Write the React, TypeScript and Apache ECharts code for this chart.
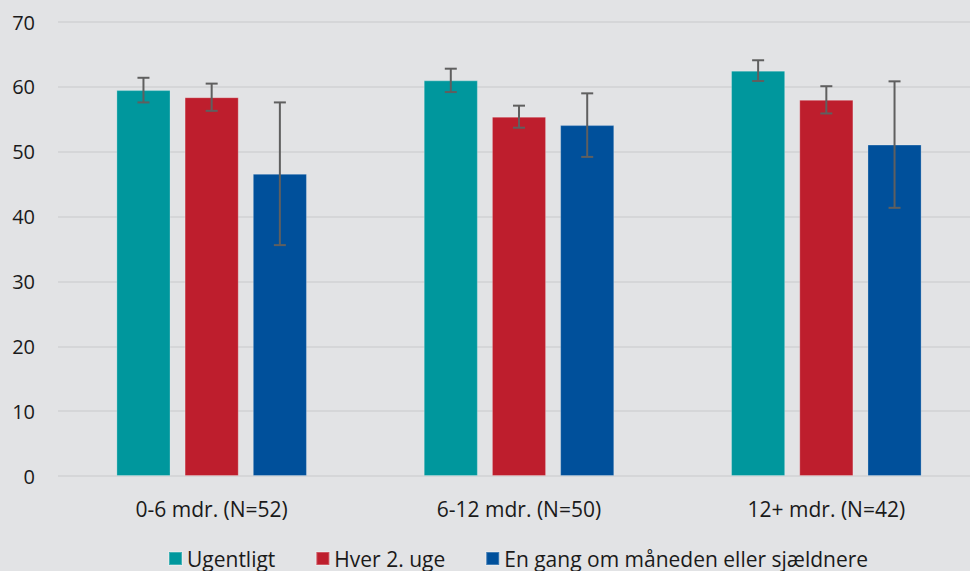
import React, { useEffect, useRef } from "react";
import * as echarts from "echarts";

const categories = ["0-6 mdr. (N=52)", "6-12 mdr. (N=50)", "12+ mdr. (N=42)"];
const seriesNames = ["Ugentligt", "Hver 2. uge", "En gang om måneden eller sjældnere"];
const ugentligt = [59.5, 61.0, 62.5];
const hver2uge = [58.4, 55.4, 58.0];
const enGang = [46.6, 54.1, 51.1];
const errUgentligt = [1.9, 1.8, 1.6];
const errHver2uge = [2.1, 1.7, 2.1];
const errEnGang = [11.0, 4.9, 9.75];
const colors = ["#00979D", "#BE1E2D", "#00509B"];

const CAT_GAP = 0.38;
const BAR_GAP = 0.26;

export default function App() {
  const ref = useRef<HTMLDivElement>(null);
  useEffect(() => {
    if (!ref.current) return;
    const chart = echarts.init(ref.current, undefined, { renderer: "svg" });
    const values = [ugentligt, hver2uge, enGang];
    const errs = [errUgentligt, errHver2uge, errEnGang];
    const font = "'Open Sans', sans-serif";

    const barSeries = values.map((v, i) => ({
      name: seriesNames[i],
      type: "bar",
      data: v,
      barCategoryGap: "38%",
      barGap: "26%",
      itemStyle: { color: colors[i], borderColor: "rgba(255,255,255,0.25)", borderWidth: 1 },
      z: 2,
    }));

    const errSeries = values.map((v, i) => ({
      name: "err" + i,
      type: "custom",
      z: 5,
      data: v.map((val, j) => [j, val - errs[i][j], val + errs[i][j]]),
      encode: { x: 0, y: [1, 2] },
      renderItem: (params: any, api: any) => {
        const band = api.size([1, 0])[0];
        const groupW = band * (1 - CAT_GAP);
        const barW = groupW / (3 + 2 * BAR_GAP);
        const offset = (i - 1) * barW * (1 + BAR_GAP);
        const lo = api.coord([api.value(0), api.value(1)]);
        const hi = api.coord([api.value(0), api.value(2)]);
        const x = lo[0] + offset;
        const cap = 6;
        const style = { stroke: "#5F5F5F", lineWidth: 2 };
        return {
          type: "group",
          children: [
            { type: "line", shape: { x1: x, y1: lo[1], x2: x, y2: hi[1] }, style },
            { type: "line", shape: { x1: x - cap, y1: lo[1], x2: x + cap, y2: lo[1] }, style },
            { type: "line", shape: { x1: x - cap, y1: hi[1], x2: x + cap, y2: hi[1] }, style },
          ],
        };
      },
    }));

    chart.setOption({
      animation: false,
      backgroundColor: "#E2E3E5",
      grid: { left: 58, top: 22, bottom: 95, right: 0 },
      legend: {
        data: seriesNames,
        top: 548,
        left: 168,
        padding: 0,
        itemWidth: 13,
        itemHeight: 13,
        itemGap: 40,
        icon: "rect",
        textStyle: { fontFamily: font, fontSize: 21, color: "#1A1A1A" },
      },
      xAxis: {
        type: "category",
        data: categories,
        axisLine: { show: false },
        axisTick: { show: false },
        axisLabel: { fontFamily: font, fontSize: 21, color: "#1A1A1A", margin: 22 },
      },
      yAxis: {
        type: "value",
        min: 0,
        max: 70,
        interval: 10,
        axisLine: { show: false },
        axisTick: { show: false },
        axisLabel: { fontFamily: font, fontSize: 20, color: "#1A1A1A", margin: 23 },
        splitLine: { lineStyle: { color: "#D5D6D8", width: 2 } },
      },
      series: [...barSeries, ...errSeries],
    });
    return () => chart.dispose();
  }, []);
  return (
    <div style={{ position: "fixed", left: 0, top: 0, width: 970, height: 571, overflow: "hidden" }}>
      <div ref={ref} style={{ width: 980, height: 571 }} />
    </div>
  );
}
